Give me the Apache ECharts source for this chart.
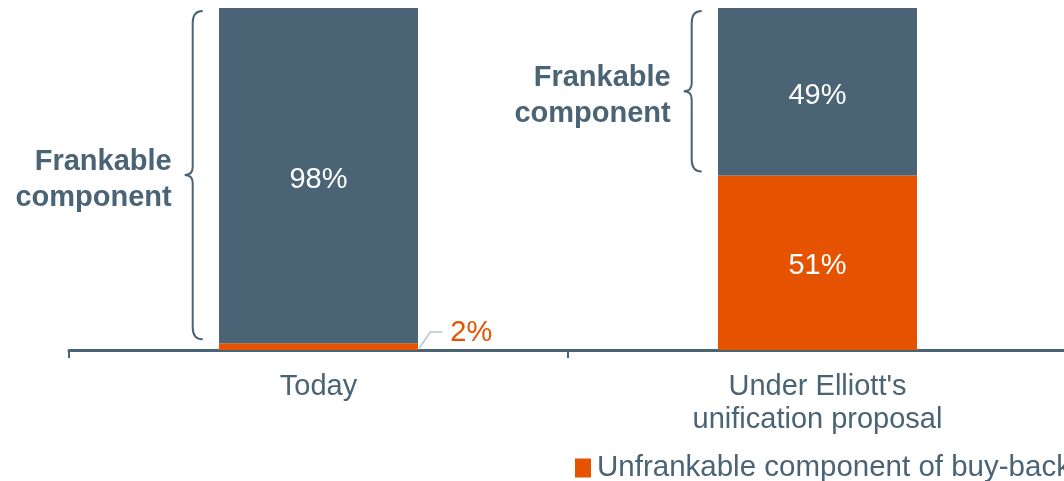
<!DOCTYPE html>
<html>
<head>
<meta charset="utf-8">
<script src="https://cdn.jsdelivr.net/npm/echarts@6/dist/echarts.min.js"></script>
<style>
  html, body { margin: 0; padding: 0; background: #fff; }
  #chart { width: 1064px; height: 481px; }
</style>
</head>
<body>
<div id="chart"></div>
<script>
// data
var categories = ['Today', "Under Elliott's\nunification proposal"];
var unfrankable = [2, 51];
var frankable = [98, 49];
var seriesNames = ['Unfrankable component of buy-back', 'Frankable component of buy-back'];
var braceText = 'Frankable\ncomponent';

var SLATE = '#4a6375';
var ORANGE = '#e55300';
var FONT = '"Liberation Sans", Arial, sans-serif';
var BAR_RATIO = 0.4;

// brace data: [category, from, to]
var braceData = categories.map(function (c, i) {
    return [i, unfrankable[i], unfrankable[i] + frankable[i]];
});

function renderBrace(params, api) {
    var top = api.coord([api.value(0), api.value(2)]);
    var bottom = api.coord([api.value(0), api.value(1)]);
    var bw = api.size([1, 0])[0] * BAR_RATIO;
    var left = top[0] - bw / 2;
    var xR = left - 16, xV = left - 26, xT = left - 34;
    var y0 = top[1] + 3, y1 = bottom[1] - 4, ym = (y0 + y1) / 2;
    var r = 12;
    var d = 'M' + xR + ' ' + y0 +
        ' Q' + xV + ' ' + y0 + ' ' + xV + ' ' + (y0 + r) +
        ' L' + xV + ' ' + (ym - 8) +
        ' Q' + xV + ' ' + ym + ' ' + xT + ' ' + ym +
        ' Q' + xV + ' ' + ym + ' ' + xV + ' ' + (ym + 8) +
        ' L' + xV + ' ' + (y1 - r) +
        ' Q' + xV + ' ' + y1 + ' ' + xR + ' ' + y1;
    return {
        type: 'group',
        children: [{
            type: 'path',
            shape: { pathData: d },
            style: { fill: null, stroke: SLATE, lineWidth: 2 }
        }, {
            type: 'text',
            style: {
                x: left - 47, y: ym + 5,
                text: braceText,
                align: 'right', verticalAlign: 'middle',
                fill: SLATE, font: 'bold 29px ' + FONT, lineHeight: 36
            }
        }]
    };
}

// leader for small values
var smallData = [];
unfrankable.forEach(function (v, i) { if (v < 5) smallData.push([i, v]); });

function renderLeader(params, api) {
    var p = api.coord([api.value(0), 0]);
    var bw = api.size([1, 0])[0] * BAR_RATIO;
    var x0 = p[0] + bw / 2 + 1, y0 = p[1] - 2;
    return {
        type: 'group',
        children: [{
            type: 'polyline',
            shape: { points: [[x0, y0], [x0 + 11, y0 - 16], [x0 + 23, y0 - 16]] },
            style: { fill: null, stroke: '#b8c5ce', lineWidth: 1.5 }
        }, {
            type: 'text',
            style: {
                x: x0 + 31, y: y0 - 15,
                text: api.value(1) + '%',
                verticalAlign: 'middle',
                fill: ORANGE, font: '29px ' + FONT
            }
        }]
    };
}

var chart = echarts.init(document.getElementById('chart'));
chart.setOption({
    animation: false,
    textStyle: { fontFamily: FONT },
    grid: { left: 69, width: 998, top: 8, bottom: 131, outerBoundsMode: 'none' },
    legend: {
        data: [seriesNames[0]],
        left: 570, top: 448,
        itemWidth: 16, itemHeight: 19, itemGap: 20,
        icon: 'rect',
        textStyle: { color: SLATE, fontSize: 29.5, padding: [0, 0, 0, 1] }
    },
    xAxis: {
        type: 'category',
        data: categories,
        axisLine: { lineStyle: { color: SLATE, width: 3 } },
        axisTick: { show: true, length: 8, lineStyle: { color: SLATE, width: 2 } },
        axisLabel: { color: SLATE, fontSize: 29, lineHeight: 33, margin: 20 }
    },
    yAxis: { type: 'value', min: 0, max: 100, show: false },
    series: [{
        name: seriesNames[0],
        type: 'bar',
        stack: 'total',
        barWidth: 199,
        itemStyle: { color: ORANGE },
        label: {
            show: true, color: '#fff', fontSize: 29, offset: [0, 3],
            formatter: function (p) { return p.value < 5 ? '' : p.value + '%'; }
        },
        data: unfrankable
    }, {
        name: seriesNames[1],
        type: 'bar',
        stack: 'total',
        itemStyle: { color: SLATE },
        label: { show: true, color: '#fff', fontSize: 29, offset: [0, 4], formatter: '{c}%' },
        data: frankable
    }, {
        type: 'custom',
        renderItem: renderBrace,
        encode: { x: 0, y: [1, 2] },
        data: braceData,
        silent: true,
        z: 5
    }, {
        type: 'custom',
        renderItem: renderLeader,
        encode: { x: 0, y: 1 },
        data: smallData,
        silent: true,
        z: 5
    }]
});
</script>
</body>
</html>
